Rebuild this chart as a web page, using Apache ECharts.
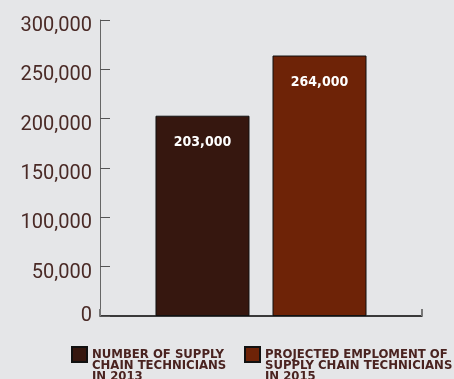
<!DOCTYPE html>
<html>
<head>
<meta charset="utf-8">
<script src="https://cdn.jsdelivr.net/npm/echarts@6/dist/echarts.min.js"></script>
<style>
html,body{margin:0;padding:0;background:#e5e6e8;}
#c{width:454px;height:379px;}
</style>
</head>
<body>
<div id="c"></div>
<script>
const categories = ['Supply chain technicians'];
const seriesNames = ['NUMBER OF SUPPLY\nCHAIN TECHNICIANS\nIN 2013', 'PROJECTED EMPLOMENT OF\nSUPPLY CHAIN TECHNICIANS\nIN 2015'];
const values2013 = [203000];
const values2015 = [264000];
const yMin = 0, yMax = 300000, yStep = 50000;

const chart = echarts.init(document.getElementById('c'), null, {renderer: 'canvas'});
const fmt = v => Number(v).toLocaleString('en-US');
const labelStyle = {
  show: true, position: 'insideTop', distance: 20,
  color: '#ffffff', fontFamily: 'DejaVu Sans Condensed', fontWeight: 'bold', fontSize: 14,
  formatter: p => fmt(p.value)
};
const legendText = {
  color: '#4a2320', fontFamily: 'DejaVu Sans Condensed', fontWeight: 'bold',
  fontSize: 13, lineHeight: 11
};
const legendBase = {itemWidth: 15, itemHeight: 15, itemGap: 0, padding: 0,
  textStyle: legendText, icon: 'rect', formatter: name => '\n\n' + name};
chart.setOption({
  backgroundColor: '#e5e6e8',
  animation: false,
  grid: {left: 100, right: 32, top: 20, bottom: 63},
  legend: [
    Object.assign({data: [seriesNames[0]], left: 71, top: 326}, legendBase),
    Object.assign({data: [seriesNames[1]], left: 244, top: 326}, legendBase)
  ],
  xAxis: {
    type: 'category', data: categories,
    axisLine: {lineStyle: {color: '#000', width: 1.5}},
    axisTick: {show: true, inside: true, length: 7, lineStyle: {color: '#777', width: 2}},
    axisLabel: {show: false}
  },
  yAxis: {
    type: 'value', min: yMin, max: yMax, interval: yStep,
    axisLine: {show: true, lineStyle: {color: '#666', width: 1}},
    axisTick: {show: true, inside: true, length: 10, lineStyle: {color: '#555'}},
    splitLine: {show: false},
    axisLabel: {
      margin: 8, color: '#4a2a26', fontFamily: 'Roboto', fontSize: 20, lineHeight: 12,
      formatter: v => (v === 0 ? '' : '\n') + fmt(v)
    }
  },
  series: [
    {name: seriesNames[0], type: 'bar', data: values2013, barWidth: 94, barGap: '24.5%',
     itemStyle: {color: '#36170f', borderColor: '#111', borderWidth: 1}, label: labelStyle},
    {name: seriesNames[1], type: 'bar', data: values2015, barWidth: 94,
     itemStyle: {color: '#6e2307', borderColor: '#111', borderWidth: 1}, label: labelStyle}
  ]
});
</script>
</body>
</html>
